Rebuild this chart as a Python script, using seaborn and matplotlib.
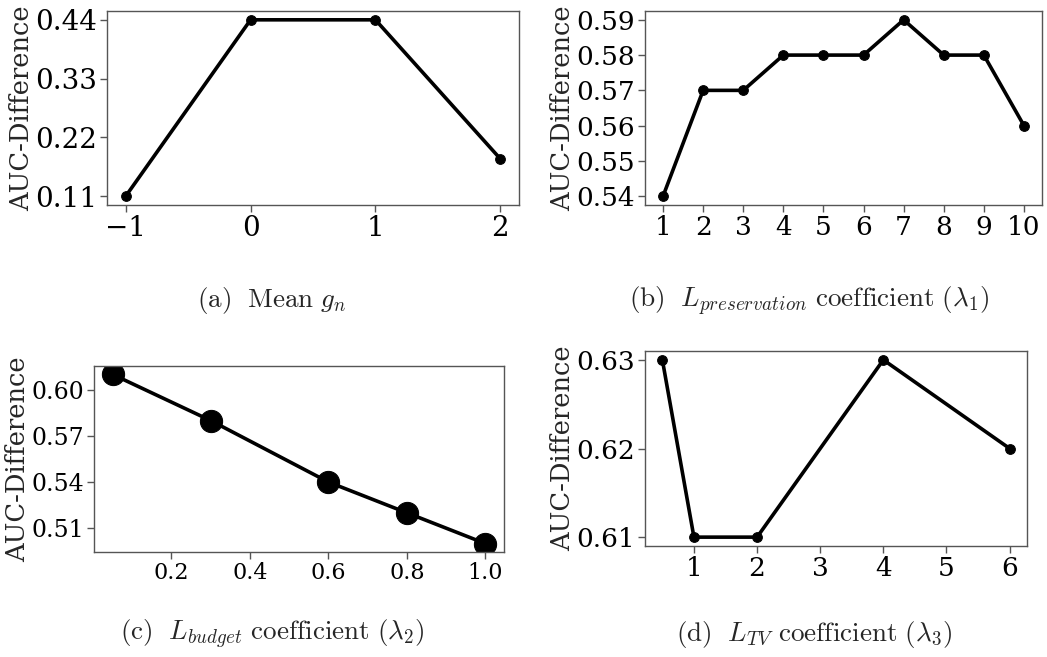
import numpy as np
import pandas as pd
import matplotlib
matplotlib.use("Agg")
import matplotlib.pyplot as plt
import matplotlib.ticker as mticker
import seaborn as sns

# ── data ──────────────────────────────────────────────────────────────────────
mean_gn      = [-1, 0, 1, 2]
auc_a        = [0.11, 0.44, 0.44, 0.18]

lambda1      = [1, 2, 3, 4, 5, 6, 7, 8, 9, 10]
auc_b        = [0.54, 0.57, 0.57, 0.58, 0.58, 0.58, 0.59, 0.58, 0.58, 0.56]

lambda2      = [0.05, 0.3, 0.6, 0.8, 1.0]
auc_c        = [0.61, 0.58, 0.54, 0.52, 0.50]

lambda3      = [0.5, 1, 2, 4, 6]
auc_d        = [0.63, 0.61, 0.61, 0.63, 0.62]

yticks_a = [0.11, 0.22, 0.33, 0.44]
yticks_b = [0.54, 0.55, 0.56, 0.57, 0.58, 0.59]
yticks_c = [0.51, 0.54, 0.57, 0.60]
yticks_d = [0.61, 0.62, 0.63]
xticks_a = [-1, 0, 1, 2]
xticks_b = list(range(1, 11))
xticks_c = [0.2, 0.4, 0.6, 0.8, 1.0]
xticks_d = [1, 2, 3, 4, 5, 6]

captions = [r"$\mathrm{(a)\ \ Mean\ }g_n$",
            r"$\mathrm{(b)\ \ }L_{preservation}\mathrm{\ coefficient\ (}\lambda_1\mathrm{)}$",
            r"$\mathrm{(c)\ \ }L_{budget}\mathrm{\ coefficient\ (}\lambda_2\mathrm{)}$",
            r"$\mathrm{(d)\ \ }L_{TV}\mathrm{\ coefficient\ (}\lambda_3\mathrm{)}$"]

# ── style ─────────────────────────────────────────────────────────────────────
sns.set_style("ticks")
plt.rcParams["font.family"] = ["DejaVu Serif"]
plt.rcParams["mathtext.fontset"] = "cm"

W, H = 1047, 657
fig = plt.figure(figsize=(W / 100, H / 100), dpi=100)


def box(l, t, r, b):
    return [l / W, 1 - b / H, (r - l) / W, (b - t) / H]


def int_fmt(v, _):
    return f"{v:g}".replace("-", "\u2212")


panels = [
    (box(107, 11, 519, 205), mean_gn, auc_a, xticks_a, yticks_a,
     mticker.FuncFormatter(int_fmt), 7, 20, 20),
    (box(645, 11, 1042, 205), lambda1, auc_b, xticks_b, yticks_b,
     mticker.FuncFormatter(int_fmt), 7, 19, 19),
    (box(94, 366, 504, 552), lambda2, auc_c, xticks_c, yticks_c,
     mticker.FormatStrFormatter("%.1f"), 16, 16, 17),
    (box(645, 351, 1027, 546), lambda3, auc_d, xticks_d, yticks_d,
     mticker.FuncFormatter(int_fmt), 7, 19, 19),
]

for rect, xs, ys, xt, yt, xfmt, ms, xfs, yfs in panels:
    ax = fig.add_axes(rect)
    df = pd.DataFrame({"x": xs, "y": ys})
    sns.lineplot(data=df, x="x", y="y", ax=ax, color="black", linewidth=2.6,
                 marker="o", markersize=ms, markeredgecolor="black")
    ax.set_xticks(xt)
    ax.set_yticks(yt)
    ax.xaxis.set_major_formatter(xfmt)
    ax.yaxis.set_major_formatter(mticker.FormatStrFormatter("%.2f"))
    ax.tick_params(axis="x", labelsize=xfs, colors="#555555", labelcolor="black",
                   length=5, width=1, pad=2)
    ax.tick_params(axis="y", labelsize=yfs, colors="#555555", labelcolor="black",
                   length=5, width=1, pad=2)
    for s in ax.spines.values():
        s.set_color("#555555")
        s.set_linewidth(1)
    ax.set_xlabel("")
    ax.set_ylabel("AUC-Difference", fontsize=18.5, labelpad=1)

fig.text(272 / W, 1 - 301 / H, captions[0], ha="center", va="center", fontsize=19.5)
fig.text(809 / W, 1 - 301 / H, captions[1], ha="center", va="center", fontsize=19.5)
fig.text(272 / W, 1 - 634 / H, captions[2], ha="center", va="center", fontsize=19.5)
fig.text(814 / W, 1 - 634 / H, captions[3], ha="center", va="center", fontsize=19.5)

fig.savefig("out.png", dpi=100)
